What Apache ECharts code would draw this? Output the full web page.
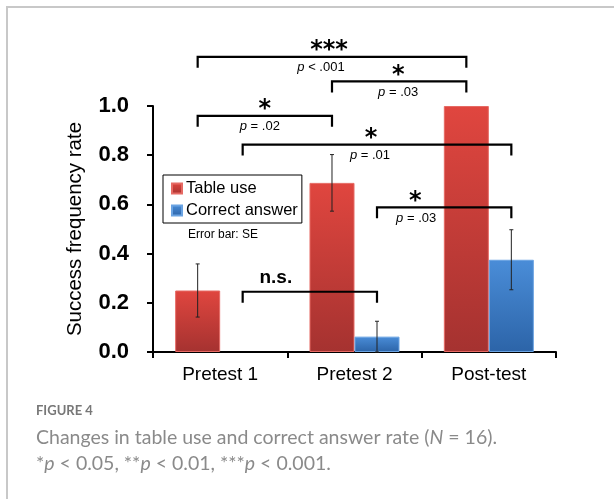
<!DOCTYPE html>
<html>
<head>
<meta charset="utf-8">
<script src="https://cdn.jsdelivr.net/npm/echarts@6/dist/echarts.min.js"></script>
<style>
  html, body { margin: 0; padding: 0; background: #fff; }
  #chart { width: 614px; height: 499px; }
</style>
</head>
<body>
<div id="chart"></div>
<script>
  // data
  var categories = ['Pretest 1', 'Pretest 2', 'Post-test'];
  var tableUse = [0.25, 0.6875, 1.0];
  var correctAnswer = [0, 0.0625, 0.375];
  var tableUseSE = [0.108, 0.115, 0];
  var correctAnswerSE = [0, 0.0625, 0.122];
  var yTicks = [0, 0.2, 0.4, 0.6, 0.8, 1.0];

  // significance brackets: [category from, series from, category to, series to, height]
  var brackets = [
    [0, 0, 2, 0, 1.20],
    [1, 0, 2, 0, 1.10],
    [0, 0, 1, 0, 0.96],
    [0, 1, 2, 1, 0.843],
    [1, 1, 2, 1, 0.588],
    [0, 1, 1, 1, 0.245]
  ];
  var bracketStars = ['***', '*', '*', '*', '*', 'n.s.'];
  var bracketP = ['< .001', '= .03', '= .02', '= .01', '= .03', ''];
  // labels are not always centred on their bracket in the original
  var starShift = [-3, -1, 0, -6, -29, -34];
  var pShift = [-11, -1, -5, -7, -28, 0];

  var FONT = 'Liberation Sans';
  var BAR_FRAC = 0.335;

  var errData = [];
  categories.forEach(function (c, i) {
    if (tableUseSE[i] > 0) errData.push([i, 0, tableUse[i] - tableUseSE[i], tableUse[i] + tableUseSE[i]]);
    if (correctAnswerSE[i] > 0) errData.push([i, 1, Math.max(0, correctAnswer[i] - correctAnswerSE[i]), correctAnswer[i] + correctAnswerSE[i]]);
  });

  function barCenter(api, cat, s, val) {
    var p = api.coord([cat, val]);
    var bw = api.size([1, 0])[0] * BAR_FRAC;
    return [p[0] + (s === 0 ? -bw / 2 : bw / 2), p[1]];
  }

  // zero-height bars get no outline
  function noEmptyBorder(v) {
    return v === 0 ? { value: v, itemStyle: { borderWidth: 0 } } : v;
  }

  var redGrad = new echarts.graphic.LinearGradient(0, 0, 0, 1, [
    { offset: 0, color: '#e0463f' },
    { offset: 1, color: '#a53230' }
  ]);
  var blueGrad = new echarts.graphic.LinearGradient(0, 0, 0, 1, [
    { offset: 0, color: '#4a8dd8' },
    { offset: 1, color: '#2c64a8' }
  ]);

  var myChart = echarts.init(document.getElementById('chart'));
  myChart.setOption({
    animation: false,
    backgroundColor: '#fff',
    grid: { left: 153, right: 58, top: 106, bottom: 147 },
    legend: {
      orient: 'vertical',
      left: 163,
      top: 175,
      borderColor: '#000',
      borderWidth: 1,
      borderRadius: 0,
      padding: [5, 4, 4, 8],
      itemGap: 5,
      itemWidth: 10,
      itemHeight: 10,
      icon: 'rect',
      textStyle: { fontFamily: FONT, fontSize: 16.5, color: '#000', padding: [0, 0, 0, -1] },
      data: ['Table use', 'Correct answer']
    },
    xAxis: {
      type: 'category',
      data: categories,
      axisLine: { lineStyle: { color: '#000', width: 2 } },
      axisTick: { show: true, length: 6, lineStyle: { color: '#000', width: 2 } },
      axisLabel: { fontFamily: FONT, fontSize: 19, color: '#000', margin: 13 }
    },
    yAxis: {
      type: 'value',
      min: yTicks[0],
      max: yTicks[yTicks.length - 1],
      interval: 0.2,
      name: 'Success frequency rate',
      nameLocation: 'middle',
      nameGap: 67,
      nameTextStyle: { fontFamily: FONT, fontSize: 20.5, color: '#000' },
      splitLine: { show: false },
      axisLine: { show: true, lineStyle: { color: '#000', width: 2 } },
      axisTick: { show: true, length: 6, lineStyle: { color: '#000', width: 2 } },
      axisLabel: {
        fontFamily: FONT, fontSize: 22, fontWeight: 'bold', color: '#000', margin: 24,
        formatter: function (v) { return v.toFixed(1); }
      }
    },
    series: [
      {
        name: 'Table use',
        type: 'bar',
        data: tableUse.map(noEmptyBorder),
        barWidth: (BAR_FRAC * 100) + '%',
        barGap: '0%',
        itemStyle: { color: redGrad, borderColor: '#e66a64', borderWidth: 1 }
      },
      {
        name: 'Correct answer',
        type: 'bar',
        data: correctAnswer.map(noEmptyBorder),
        barWidth: (BAR_FRAC * 100) + '%',
        barGap: '0%',
        itemStyle: { color: blueGrad, borderColor: '#6aa3e2', borderWidth: 1 }
      },
      {
        type: 'custom',
        name: 'err',
        data: errData,
        z: 5,
        renderItem: function (params, api) {
          var lo = barCenter(api, api.value(0), api.value(1), api.value(2));
          var hi = barCenter(api, api.value(0), api.value(1), api.value(3));
          var st = { stroke: '#222', lineWidth: 1 };
          return {
            type: 'group',
            children: [
              { type: 'line', shape: { x1: lo[0], y1: lo[1], x2: hi[0], y2: hi[1] }, style: st },
              { type: 'line', shape: { x1: lo[0] - 2, y1: lo[1], x2: lo[0] + 2, y2: lo[1] }, style: st },
              { type: 'line', shape: { x1: hi[0] - 2, y1: hi[1], x2: hi[0] + 2, y2: hi[1] }, style: st }
            ]
          };
        }
      },
      {
        type: 'custom',
        name: 'brackets',
        data: brackets,
        clip: false,
        z: 6,
        renderItem: function (params, api) {
          var i = params.dataIndex;
          var y = api.value(4);
          var a = barCenter(api, api.value(0), api.value(1), y);
          var b = barCenter(api, api.value(2), api.value(3), y);
          var drop = 11;
          var mid = (a[0] + b[0]) / 2;
          var star = bracketStars[i];
          var ptxt = bracketP[i];
          var kids = [
            {
              type: 'polyline',
              shape: { points: [[a[0], a[1] + drop], [a[0], a[1]], [b[0], b[1]], [b[0], b[1] + drop]] },
              style: { stroke: '#000', lineWidth: 2.2, fill: null }
            }
          ];
          if (star === 'n.s.') {
            kids.push({
              type: 'text', x: mid + starShift[i], y: a[1] - 14,
              style: { text: star, fontFamily: FONT, fontSize: 19, fontWeight: 'bold', fill: '#000', align: 'center', verticalAlign: 'middle' }
            });
          } else {
            kids.push({
              type: 'text', x: mid + starShift[i], y: a[1] - 6,
              style: { text: star, fontFamily: 'DejaVu Sans', fontSize: 24, fontWeight: 'bold', fill: '#000', align: 'center', verticalAlign: 'middle' }
            });
          }
          if (ptxt) {
            kids.push({
              type: 'text', x: mid + pShift[i], y: a[1] + 11,
              style: {
                text: '{i|p} ' + ptxt,
                fontFamily: FONT, fontSize: 13, fill: '#000', align: 'center', verticalAlign: 'middle',
                rich: { i: { fontFamily: FONT, fontSize: 13, fontStyle: 'italic', fill: '#000' } }
              }
            });
          }
          return { type: 'group', children: kids };
        }
      }
    ],
    graphic: [
      {
        type: 'polyline',
        shape: { points: [[7, 499], [7, 7], [614, 7]] },
        style: { stroke: '#c8c8c8', lineWidth: 2, fill: null },
        silent: true
      },
      {
        type: 'text', left: 188, top: 229,
        style: { text: 'Error bar: SE', fontFamily: FONT, fontSize: 12, fill: '#000' }
      },
      {
        type: 'text', left: 36, top: 404,
        style: { text: 'FIGURE 4', fontFamily: 'Lato', fontSize: 13, fontWeight: 'bold', fill: '#777' }
      },
      {
        type: 'text', left: 36, top: 425,
        style: {
          text: 'Changes in table use and correct answer rate ({i|N} = 16).\n*{i|p} < 0.05, **{i|p} < 0.01, ***{i|p} < 0.001.',
          fontFamily: 'Lato', fontSize: 19.5, fill: '#8a8a8a', lineHeight: 26,
          rich: { i: { fontFamily: 'Lato', fontSize: 19.5, fontStyle: 'italic', fill: '#8a8a8a' } }
        }
      }
    ]
  });
</script>
</body>
</html>
